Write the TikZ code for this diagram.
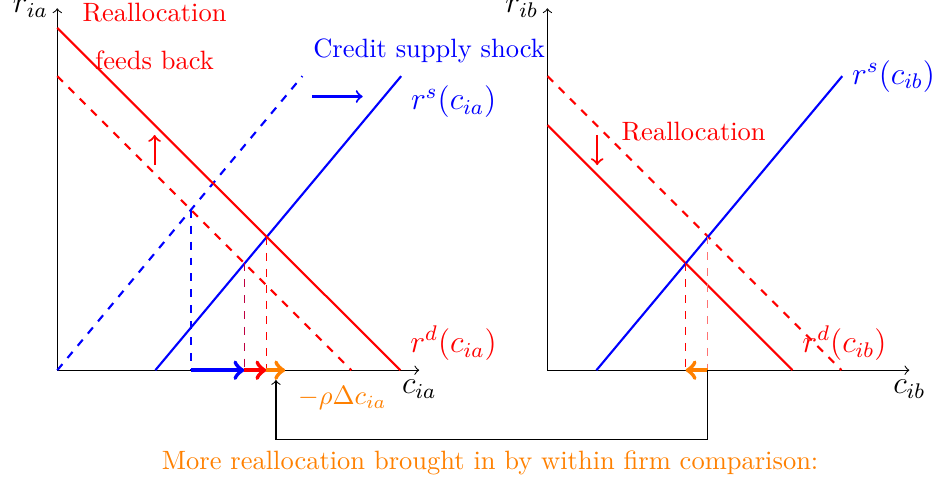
\documentclass[tikz,border=0pt]{standalone}
\usepackage{amsmath,amssymb}
\usepackage{xcolor}
\usepackage{tikz}

\begin{document}
\begin{tikzpicture}[
    axis/.style={->},
    curve/.style={thick},
    guide/.style={dashed, thin},
    shiftarr/.style={->, ultra thick},
    arr/.style={->, thick},
    lbl/.style={font=\large}
]
    \useasboundingbox (-0.76,-1.47) rectangle (11.68,4.91);

    % left panel
    \coordinate (oa) at (0,0);
    \draw[axis] (oa) -- (0,4.8) node[left, lbl] (ria) {$r_{ia}$};
    \draw[axis] (oa) -- (4.8,0) node[below, lbl] (cia) {$c_{ia}$};

    \draw[curve, blue, dashed] (oa) -- (3.25,3.9);
    \draw[curve, blue] (1.3,0) -- (4.56,3.9) node[below right, lbl] (rsa) {$r^s(c_{ia})$};
    \draw[curve, red, dashed] (0,3.9) -- (3.9,0);
    \draw[curve, red] (0,4.54) -- (4.55,0) node[above right, lbl] (rda) {$r^d(c_{ia})$};

    \coordinate (a0) at (1.773,2.127);
    \coordinate (a1) at (2.482,1.418);
    \coordinate (a2) at (2.773,1.767);
    \draw[guide, blue] (a0) -- (a0 |- oa);
    \draw[guide, purple] (a1) -- (a1 |- oa);
    \draw[guide, red] (a2) -- (a2 |- oa);

    \draw[shiftarr, blue] (a0 |- oa) -- (a1 |- oa);
    \draw[shiftarr, red] (a1 |- oa) -- (a2 |- oa);
    \draw[shiftarr, orange] (a2 |- oa) -- ++(0.25,0) coordinate (fa);
    \node[orange] (rho) at (3.78,-0.37) {$-\rho\Delta c_{ia}$};

    \node[blue] (shock) at (4.93,4.24) {Credit supply shock};
    \draw[arr, blue] (3.38,3.63) -- (4.05,3.63);
    \node[red, align=center] (feed) at (1.29,4.43) {Reallocation\\[6pt]feeds back};
    \draw[arr, red] (1.29,2.72) -- (1.29,3.12);

    % right panel
    \begin{scope}[xshift=6.5cm]
        \coordinate (ob) at (0,0);
        \draw[axis] (ob) -- (0,4.8) node[left, lbl] (rib) {$r_{ib}$};
        \draw[axis] (ob) -- (4.8,0) node[below, lbl] (cib) {$c_{ib}$};

        \draw[curve, red, dashed] (0,3.9) -- (3.9,0);
        \draw[curve, red] (0,3.25) -- (3.25,0) node[above right, lbl] (rdb) {$r^d(c_{ib})$};
        \draw[curve, blue] (0.65,0) -- (3.91,3.9) node[right, lbl] (rsb) {$r^s(c_{ib})$};

        \coordinate (b0) at (2.127,1.773);
        \coordinate (b1) at (1.832,1.418);
        \draw[guide, red!55] (b0) -- (b0 |- ob);
        \draw[guide, red] (b1) -- (b1 |- ob);
        \draw[shiftarr, orange] (b0 |- ob) -- (b1 |- ob);

        \node[red] (realloc) at (1.94,3.16) {Reallocation};
        \draw[arr, red] (0.66,3.12) -- (0.66,2.72);
    \end{scope}

    % within firm comparison
    \coordinate (fb) at (2.9,-0.13);
    \draw[->] (b0 |- ob) -- ++(0,-0.915) -| (fb);
    \node[orange] (note) at (5.74,-1.23) {More reallocation brought in by within firm comparison:};
\end{tikzpicture}
\end{document}
